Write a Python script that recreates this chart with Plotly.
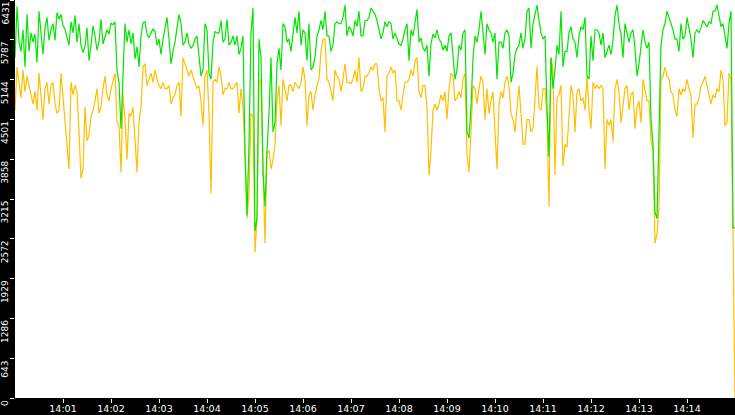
import pandas as pd
import plotly.graph_objects as go

# rate samples, one every 2.5 s from 14:00:00 to 14:15:00
green_rate = [
    5500, 6330, 5750, 5600, 5950, 5350, 6200, 5600, 5900, 5750,
    5880, 5420, 6250, 5900, 5550, 5980, 6150, 5780, 5950, 6050,
    5780, 6230, 6120, 6200, 6020, 5960, 5800, 5700, 6080, 5900,
    6180, 5750, 6050, 5700, 5580, 5680, 5980, 5450, 5700, 6010,
    5850, 5620, 5760, 6120, 5720, 5820, 5950, 5880, 6060, 6030,
    6080, 5300, 5100, 4350, 5300, 6050, 5750, 5950, 5720, 5900,
    5480, 5680, 5350, 5850, 6060, 6080, 5880, 5820, 5900, 5960,
    5920, 5700,
    5800, 5550, 5800, 6000, 6150, 5800, 5400, 5600, 5750, 5980,
    6200, 6050, 5700, 5750, 5900, 5720, 5650, 5700, 5800, 5850,
    5450, 5200, 5300, 6050, 5950, 5250, 5150, 5750, 5920, 5900,
    5900, 6100, 5750, 5800, 6120, 5700, 5750, 5850, 5700, 5850,
    5550, 5650, 5850, 3950, 2950, 4100, 5900, 6300, 2700, 2900,
    5800, 5500, 3650, 3100, 4000, 4600, 5500, 4300, 4450, 5400,
    5650, 5300, 6050, 6000, 5750, 5800, 5600, 5900, 6150, 5900,
    6250, 5700,
    5950, 5900, 5450, 6050, 5300, 5350, 5500, 5850, 5950, 6100,
    5950, 6250, 5850, 5850, 5600, 5700, 6050, 6080, 6050, 6050,
    6150, 6350, 5850, 6000, 5950, 5850, 6100, 6000, 6250, 5850,
    5850, 6100, 6100, 6150, 6300, 6250, 6200, 6100, 5950, 5800,
    5900, 6080, 6000, 6080, 6050, 5800, 5900, 5800, 5720, 5700,
    5800, 5950, 6050, 5450, 5950, 5850, 6100, 6280, 5750, 5820,
    5650, 5600, 5700, 5200, 5720, 5880, 5820, 5950, 5800, 5750,
    5620, 5700,
    5600, 5850, 5900, 5450, 5150, 5300, 5700, 5620, 5900, 5950,
    4300, 4200, 4700, 5500, 5850, 5750, 5950, 6250, 5950, 5550,
    6050, 5950, 5900, 5750, 5900, 5150, 5750, 5750, 5650, 5900,
    5950, 5850, 5100, 5250, 5550, 5650, 5700, 5900, 5650, 5800,
    6250, 6300, 5650, 6050, 6200, 6350, 6100, 5900, 5800, 5850,
    4700, 3900, 5500, 5000, 5300, 5700, 5550, 6250, 5350, 5600,
    5600, 5900, 6000, 5800, 5750, 5500, 5850, 6000, 5950, 6150,
    5200, 5150,
    5850, 5450, 5950, 5950, 5900, 5700, 5900, 5500, 5600, 5700,
    5550, 5780, 6180, 6350, 6050, 5880, 5500, 6050, 5900, 5750,
    5900, 5950, 5650, 5200, 5400, 5650, 5950, 5750, 5650, 5750,
    4500, 4100, 3000, 2900, 4100, 5700, 5950, 6050, 6250, 6150,
    6050, 5950, 5800, 5800, 5600, 6050, 5800, 5850, 6150, 6000,
    5800, 5500, 5900, 5950, 5900, 5980, 6100, 6050, 6000, 6080,
    6050, 6250, 6250, 6350, 6150, 6000, 6050, 5850, 5650, 6050,
    6250, 2750,
    2750,
]

yellow_rate = [
    4650, 5350, 5100, 4850, 5300, 4950, 5200, 5050, 4900, 4750,
    4950, 4650, 5250, 4800, 4500, 5000, 5100, 4750, 5050, 5100,
    4750, 4600, 4650, 5250, 4850, 4400, 4000, 3700, 5100, 4900,
    5050, 4950, 4300, 3550, 3700, 4700, 4150, 4250, 4550, 4650,
    4800, 5000, 4600, 4700, 5000, 5200, 4900, 4800, 5000, 5150,
    5250, 4450, 4400, 3650, 4900, 4500, 3850, 4600, 4550, 4700,
    4100, 3650, 4450, 4700, 5350, 5400, 5050, 5150, 5250, 5100,
    5300, 5150,
    5050, 5000, 5100, 5000, 5000, 5050, 4750, 4850, 4900, 5050,
    5100, 4550, 5500, 5400, 5300, 5200, 5300, 5200, 5100, 5000,
    5050, 4800, 4400, 5200, 5300, 4600, 3300, 5100, 5150, 5100,
    5350, 5200, 4900, 5000, 5000, 5100, 5000, 5000, 5050, 5100,
    4600, 5000, 4700, 4000, 2900, 3300, 4600, 4550, 2350, 2900,
    5150, 5100, 3750, 2500, 3950, 4000, 3700, 3850, 4100, 4800,
    5050, 4400, 5150, 5000, 4800, 5050, 5050, 4950, 5100, 5050,
    5000, 5100,
    5350, 5150, 4400, 4900, 4950, 4650, 4900, 5050, 5150, 5600,
    5800, 5800, 5150, 5100, 4950, 4800, 5300, 5200, 5150, 4950,
    5150, 5400, 5100, 5100, 5080, 5150, 5300, 5100, 5500, 4950,
    5000, 5200, 5200, 5250, 5350, 5300, 5400, 5400, 5000, 4800,
    4850, 4300, 5200, 5250, 5350, 5250, 5300, 4800, 4800, 4650,
    4900, 5100, 5100, 5150, 5300, 5200, 5450, 5500, 4950, 4850,
    5050, 5050, 4700, 3600, 4000, 4650, 4750, 4650, 4750, 4900,
    4800, 4950,
    4500, 5000, 5250, 5200, 4800, 4850, 4950, 4850, 5150, 5250,
    3950, 3650, 4300, 5050, 5000, 4750, 5000, 5200, 5100, 4500,
    5000, 4600, 4800, 4950, 4300, 3700, 4750, 4950, 4850, 5100,
    5200, 5050, 4600, 4500, 4300, 4700, 5050, 4600, 4100, 4100,
    4500, 4500, 4300, 4350, 4950, 5350, 4700, 4650, 5000, 5000,
    4500, 3100, 5500, 5300, 3600, 4850, 4900, 5050, 3750, 4100,
    4050, 4600, 5050, 4900, 4300, 4950, 5000, 4800, 4850, 4650,
    5200, 4650,
    4350, 5100, 5000, 5050, 5000, 5050, 5000, 3700, 4500, 4400,
    4500, 4150, 5000, 5150, 4950, 4450, 4700, 5000, 5050, 4650,
    4900, 4950, 4350, 4700, 4800, 4450, 5150, 5000, 4800, 4800,
    4150, 4000, 2500, 2650, 3100, 5150, 5200, 5350, 5200, 5150,
    4950, 4900, 4650, 4550, 5000, 4900, 5000, 4950, 5150, 5000,
    4900, 4200, 4750, 4750, 4850, 5050, 5100, 5200, 5050, 4850,
    4750, 4900, 4850, 5000, 4950, 5300, 5150, 4400, 4450, 5250,
    5150, 2600,
    0,
]

y_ticks = [0, 643, 1286, 1929, 2572, 3215, 3858, 4501, 5144, 5787, 6431]
minute_labels = ["14:01", "14:02", "14:03", "14:04", "14:05", "14:06", "14:07",
                 "14:08", "14:09", "14:10", "14:11", "14:12", "14:13", "14:14"]

day = "2024-01-01 "
times = pd.date_range(day + "14:00:00", periods=len(green_rate), freq="2500ms")
minute_ticks = [pd.Timestamp(day + m + ":00") for m in minute_labels]

fig = go.Figure()
fig.add_trace(go.Scatter(
    x=times, y=yellow_rate, mode="lines",
    line=dict(color="#ffbf00", width=1.2),
    hoverinfo="skip"
))
fig.add_trace(go.Scatter(
    x=times, y=green_rate, mode="lines",
    line=dict(color="#00e600", width=1.2),
    hoverinfo="skip"
))

# y labels sit below their tick, rotated to read upwards
for v in y_ticks:
    fig.add_annotation(
        x=0, xref="paper", xanchor="right", xshift=-3,
        y=v, yref="y", yanchor="top",
        text=str(v), textangle=-90, showarrow=False,
        font=dict(family="DejaVu Sans", size=9, color="white")
    )

fig.update_layout(
    width=735,
    height=415,
    paper_bgcolor="black",
    plot_bgcolor="white",
    showlegend=False,
    margin=dict(l=15, r=0, t=0, b=17, pad=0),
)
fig.update_xaxes(
    type="date",
    range=[times[0], times[-1]],
    tickvals=minute_ticks,
    ticktext=minute_labels,
    ticks="outside", ticklen=4, tickcolor="white", tickwidth=1,
    ticklabelstandoff=-2,
    tickfont=dict(family="DejaVu Sans", size=9.5, color="white"),
    showgrid=False, zeroline=False, automargin=False
)
fig.update_yaxes(
    range=[0, 6431],
    tickvals=y_ticks,
    showticklabels=False,
    ticks="outside", ticklen=4, tickcolor="white", tickwidth=1,
    showgrid=False, zeroline=False, automargin=False
)

fig.write_html(
    "out.html",
    config=dict(displayModeBar=False),
    post_script="document.body.style.margin='0';document.body.style.background='black';"
)
